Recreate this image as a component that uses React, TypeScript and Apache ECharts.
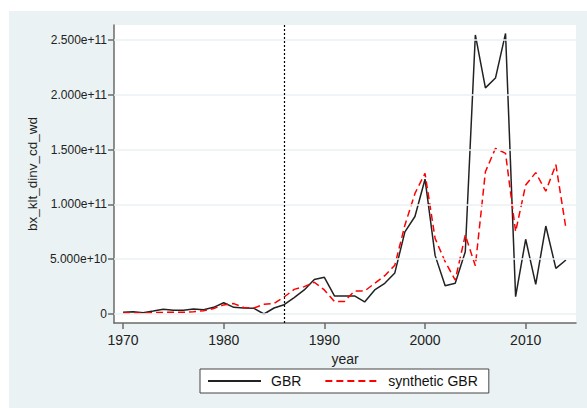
import React, { useEffect, useRef } from "react";
import * as echarts from "echarts";

const years = [
  1970, 1971, 1972, 1973, 1974, 1975, 1976, 1977, 1978, 1979,
  1980, 1981, 1982, 1983, 1984, 1985, 1986, 1987, 1988, 1989,
  1990, 1991, 1992, 1993, 1994, 1995, 1996, 1997, 1998, 1999,
  2000, 2001, 2002, 2003, 2004, 2005, 2006, 2007, 2008, 2009,
  2010, 2011, 2012, 2013, 2014,
];

const gbr = [
  1.5e9, 2.0e9, 1.2e9, 2.7e9, 4.3e9, 3.4e9, 3.4e9, 4.6e9, 3.9e9, 6.1e9,
  10.3e9, 6.1e9, 5.5e9, 5.2e9, 0.0, 5.5e9, 8.5e9, 15e9, 22e9, 31.5e9,
  33.5e9, 16.5e9, 16.5e9, 16.5e9, 11e9, 22e9, 28e9, 37.5e9, 75e9, 89e9,
  123e9, 53.5e9, 25.8e9, 28e9, 56.8e9, 254.6e9, 206.3e9, 215.3e9, 256e9, 15.8e9,
  68.2e9, 27.1e9, 80.3e9, 41.7e9, 49.3e9,
];

const syntheticGbr = [
  1.0e9, 1.0e9, 1.0e9, 1.2e9, 1.5e9, 1.5e9, 1.5e9, 2.0e9, 3.0e9, 5.0e9,
  8.3e9, 9.5e9, 6.0e9, 5.5e9, 8.8e9, 9.7e9, 15.5e9, 22.5e9, 25e9, 29e9,
  22e9, 11.5e9, 11.5e9, 21e9, 21e9, 28e9, 35e9, 44.5e9, 81e9, 110e9,
  128.4e9, 69e9, 47.7e9, 31e9, 72e9, 44e9, 129.8e9, 151.2e9, 146.6e9, 75.1e9,
  117.7e9, 129e9, 112e9, 136.3e9, 78.2e9,
];

const xTicks = [1970, 1980, 1990, 2000, 2010];
const yTicks = [0, 5e10, 1e11, 1.5e11, 2e11, 2.5e11];
const treatmentYear = 1986;
const seriesNames = ["GBR", "synthetic GBR"];

export default function App() {
  const ref = useRef<HTMLDivElement>(null);
  useEffect(() => {
    const chart = echarts.init(ref.current as HTMLDivElement, null, { renderer: "svg" });
    const font = "'Liberation Sans', Arial, sans-serif";
    const axisColor = "#6b6b6b";
    chart.setOption({
      animation: false,
      backgroundColor: "#eaf2f3",
      textStyle: { fontFamily: font, color: "#222" },
      grid: {
        left: 105,
        top: 14,
        width: 462,
        height: 298,
        show: true,
        backgroundColor: "#ffffff",
        borderWidth: 0,
      },
      legend: {
        data: seriesNames,
        left: 191,
        top: 358,
        orient: "horizontal",
        padding: [5, 11, 5, 7],
        itemWidth: 53,
        itemHeight: 14,
        itemGap: 23,
        backgroundColor: "#ffffff",
        borderColor: "#444",
        borderWidth: 1,
        borderRadius: 0,
        selectedMode: false,
        itemStyle: { opacity: 0 },
        textStyle: { fontSize: 14, color: "#111", fontFamily: font, padding: [0, 0, 0, 5] },
      },
      xAxis: {
        type: "value",
        min: 1969.1,
        max: 2015,
        name: "year",
        nameLocation: "middle",
        nameGap: 29,
        nameTextStyle: { fontSize: 14, color: "#222", fontFamily: font },
        axisLine: { show: true, onZero: false, lineStyle: { color: axisColor, width: 1.5 } },
        axisTick: { show: true, length: 6, customValues: xTicks, lineStyle: { color: axisColor, width: 1.5 } },
        axisLabel: {
          customValues: xTicks,
          fontSize: 14,
          color: "#222",
          margin: 10,
          fontFamily: font,
          formatter: (v: number) => String(v),
        },
        splitLine: { show: false },
      },
      yAxis: {
        type: "value",
        min: -8.2e9,
        max: 2.637e11,
        name: "bx_klt_dinv_cd_wd",
        nameLocation: "middle",
        nameGap: 66,
        nameTextStyle: { fontSize: 13.5, color: "#222", fontFamily: font },
        axisLine: { show: true, onZero: false, lineStyle: { color: axisColor, width: 1.5 } },
        axisTick: { show: true, length: 6, customValues: yTicks, lineStyle: { color: axisColor, width: 1.5 } },
        axisLabel: {
          customValues: yTicks,
          fontSize: 12,
          color: "#222",
          margin: 7,
          fontFamily: font,
          formatter: (v: number) => (v === 0 ? "0" : v.toExponential(3)),
        },
        splitLine: { show: false },
      },
      series: [
        {
          name: "grid",
          type: "line",
          data: [],
          silent: true,
          z: 1,
          markLine: {
            silent: true,
            symbol: "none",
            label: { show: false },
            emphasis: { disabled: true },
            lineStyle: { color: "#eaf2f3", width: 1.5, type: "solid" },
            data: yTicks.map((v) => ({ yAxis: v })),
          },
        },
        {
          name: seriesNames[0],
          type: "line",
          data: years.map((y, i) => [y, gbr[i]]),
          symbol: "none",
          z: 3,
          lineStyle: { color: "#222", width: 1.5 },
          itemStyle: { color: "#222" },
          emphasis: { disabled: true },
          markLine: {
            silent: true,
            symbol: "none",
            label: { show: false },
            emphasis: { disabled: true },
            lineStyle: { color: "#000", width: 1.2, type: [2, 2] },
            data: [{ xAxis: treatmentYear }],
          },
        },
        {
          name: seriesNames[1],
          type: "line",
          data: years.map((y, i) => [y, syntheticGbr[i]]),
          symbol: "none",
          z: 4,
          lineStyle: { color: "#ff0000", width: 1.5, type: [7, 4] },
          itemStyle: { color: "#ff0000" },
          emphasis: { disabled: true },
        },
      ],
    });
    return () => chart.dispose();
  }, []);
  return (
    <div
      ref={ref}
      style={{ position: "absolute", left: 9, top: 11, width: 578, height: 397 }}
    />
  );
}
